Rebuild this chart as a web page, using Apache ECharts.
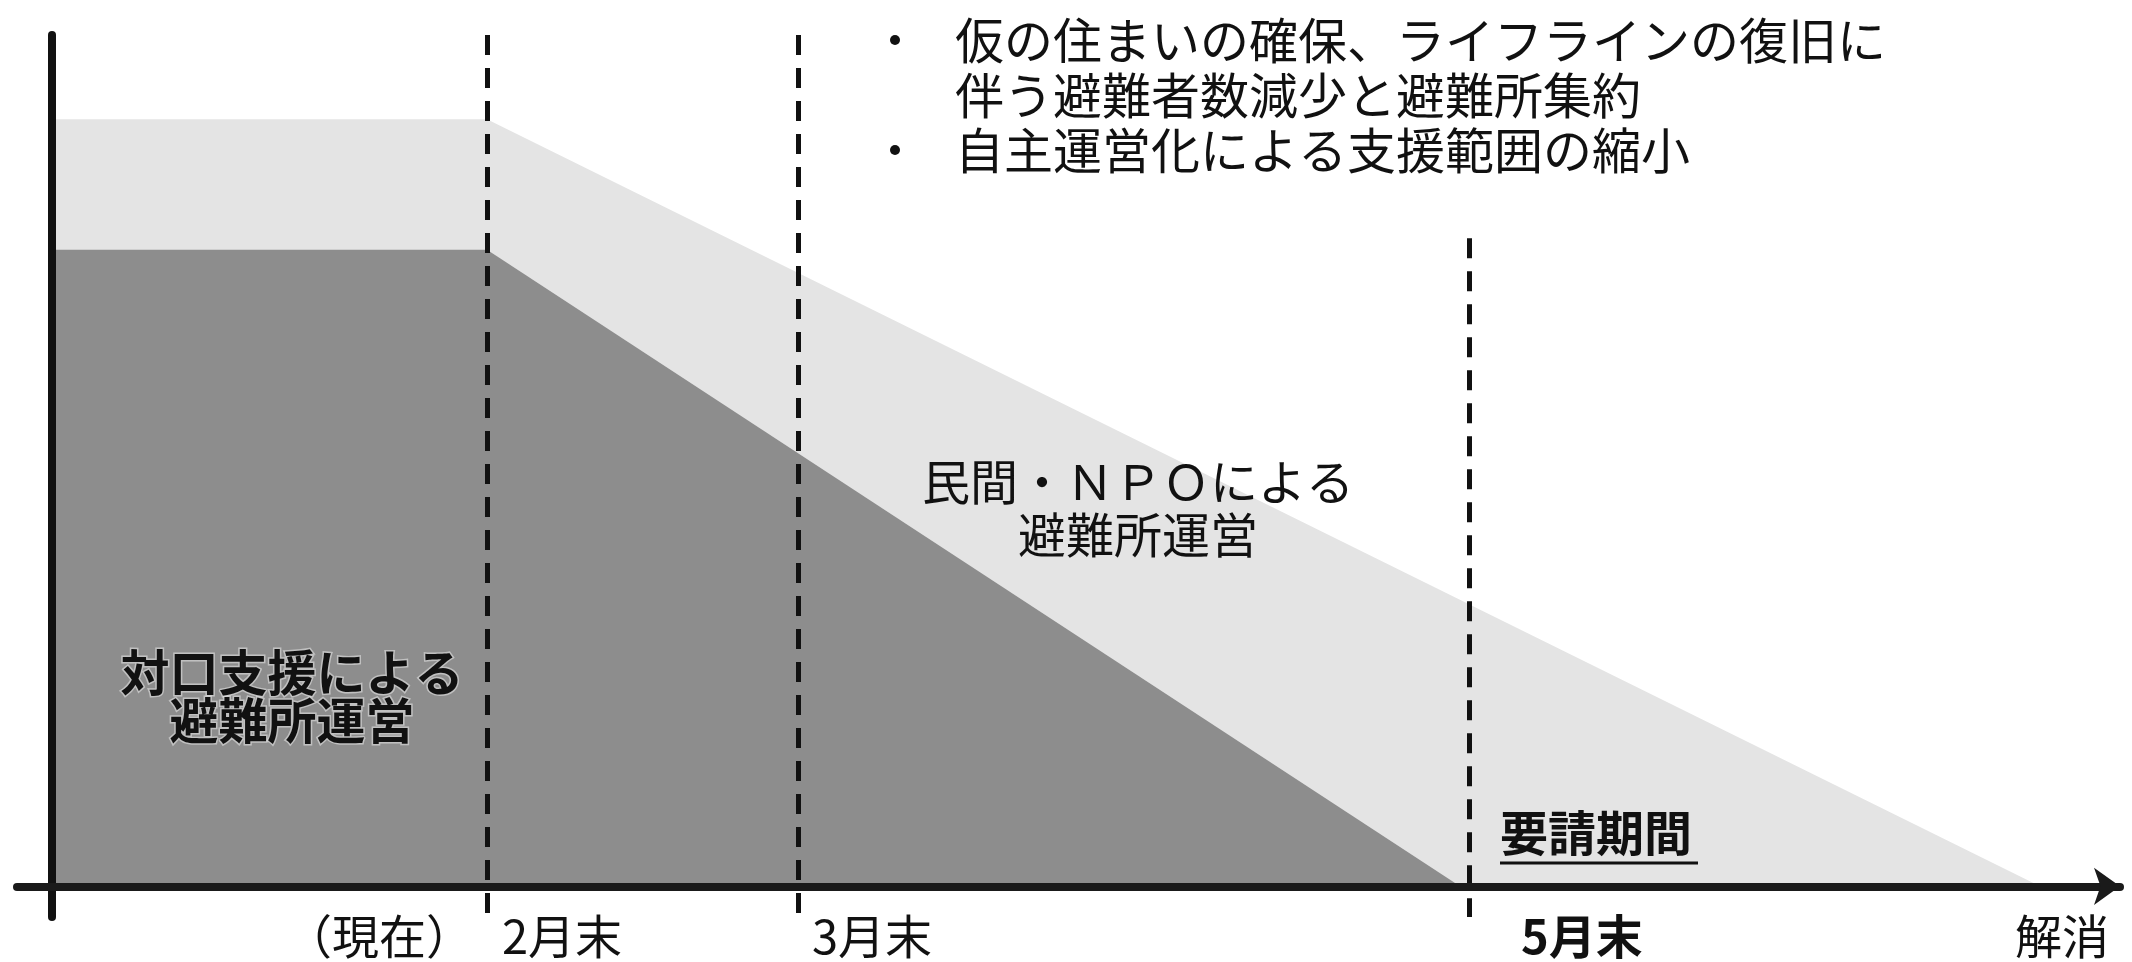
<!DOCTYPE html>
<html>
<head>
<meta charset="utf-8">
<script src="https://cdn.jsdelivr.net/npm/echarts@6/dist/echarts.min.js"></script>
<style>
html,body{margin:0;padding:0;background:#ffffff;}
#c{width:2132px;height:962px;}
</style>
</head>
<body>
<div id="c"></div>
<script>
// ---- data (x in arbitrary time units, y in arbitrary support-scale units) ----
const milestoneNames = ['2月末', '3月末', '5月末'];
const milestoneX = [43.5, 74.6, 141.7];
const milestoneTop = [111, 111, 84.5];
const milestoneBottom = [-4, -4, -4];
const counterpartSupport = [[0, 83], [43.5, 83], [140.8, 0]];      // 対口支援による避難所運営
const totalSupport = [[0, 100], [43.5, 100], [198.8, 0]];          // + 民間・NPOによる避難所運営
const tickLabels = ['（現在）', '2月末', '3月末', '5月末', '解消'];
const tickValues = [43.5, 43.5, 74.6, 141.7, 198.8];
const bulletLines = ['仮の住まいの確保、ライフラインの復旧に', '伴う避難者数減少と避難所集約', '自主運営化による支援範囲の縮小'];
const npoLabel = ['民間・ＮＰＯによる', '避難所運営'];
const counterpartLabel = ['対口支援による', '避難所運営'];
const periodLabel = '要請期間';

const FONT = "'Noto Sans CJK JP', 'Noto Sans', sans-serif";
const chart = echarts.init(document.getElementById('c'));

chart.setOption({
  animation: false,
  backgroundColor: '#ffffff',
  grid: { left: 17, right: 12, top: 35, bottom: 45, containLabel: false },
  xAxis: {
    type: 'value', min: -3.5, max: 206.8, z: 10,
    axisLine: { show: true, onZero: true, symbol: ['none', 'arrow'], symbolSize: [28, 26],
      lineStyle: { color: '#1a1a1a', width: 8 } },
    axisTick: { show: false }, axisLabel: { show: false }, splitLine: { show: false }
  },
  yAxis: {
    type: 'value', min: -4, max: 111, z: 10,
    axisLine: { show: true, onZero: true, lineStyle: { color: '#111', width: 8 } },
    axisTick: { show: false }, axisLabel: { show: false }, splitLine: { show: false }
  },
  series: [
    {
      name: '民間・ＮＰＯによる避難所運営', type: 'line', data: totalSupport,
      showSymbol: false, lineStyle: { width: 0 },
      areaStyle: { color: '#e4e4e4', opacity: 1 }, z: 2
    },
    {
      name: '対口支援による避難所運営', type: 'line', data: counterpartSupport,
      showSymbol: false, lineStyle: { width: 0 },
      areaStyle: { color: '#8d8d8d', opacity: 1 }, z: 3,
      markLine: {
        silent: true, symbol: ['none', 'none'], label: { show: false },
        lineStyle: { color: '#111', width: 5, type: [20, 13] },
        data: milestoneX.map((x, i) => [{ coord: [x, milestoneTop[i]] }, { coord: [x, milestoneBottom[i]] }])
      }
    }
  ]
});

const px = v => chart.convertToPixel({ xAxisIndex: 0 }, v);
const graphics = [];
const tickStyle = [
  { align: 'right', dx: -14, weight: 'normal' },
  { align: 'left', dx: 15, weight: 'normal' },
  { align: 'left', dx: 14, weight: 'normal' },
  { align: 'left', dx: 52, weight: 'bold' },
  { align: 'center', dx: 22, weight: 'normal' }
];
tickLabels.forEach((t, i) => {
  graphics.push({ type: 'text', x: px(tickValues[i]) + tickStyle[i].dx, y: 936, z: 20,
    style: { text: t, fontSize: 47, fontFamily: FONT, fontWeight: tickStyle[i].weight,
      fill: '#111', align: tickStyle[i].align, verticalAlign: 'middle' } });
});
// bullets
const bulletY = [40, 95, 150];
bulletLines.forEach((t, i) => {
  graphics.push({ type: 'text', x: 955, y: bulletY[i], z: 20,
    style: { text: t, fontSize: 49, fontFamily: FONT, fill: '#111', align: 'left', verticalAlign: 'middle' } });
});
[0, 2].forEach(i => {
  graphics.push({ type: 'circle', shape: { cx: 895, cy: bulletY[i], r: 5 }, style: { fill: '#111' }, z: 20 });
});
// NPO label
npoLabel.forEach((t, i) => {
  graphics.push({ type: 'text', x: 1138, y: [482, 535][i], z: 20,
    style: { text: t, fontSize: 48, fontFamily: FONT, fill: '#111', align: 'center', verticalAlign: 'middle' } });
});
// counterpart label
counterpartLabel.forEach((t, i) => {
  graphics.push({ type: 'text', x: 292, y: [672, 720][i], z: 20,
    style: { text: t, fontSize: 49, fontFamily: FONT, fontWeight: 'bold', fill: '#111',
      stroke: 'rgba(235,235,235,0.55)', lineWidth: 3, align: 'center', verticalAlign: 'middle' } });
});
// request period
graphics.push({ type: 'text', x: 1500, y: 833, z: 20,
  style: { text: periodLabel, fontSize: 48, fontFamily: FONT, fontWeight: 'bold', fill: '#111', align: 'left', verticalAlign: 'middle' } });
graphics.push({ type: 'line', shape: { x1: 1500, y1: 863, x2: 1698, y2: 863 }, style: { stroke: '#111', lineWidth: 3 }, z: 20 });

chart.setOption({ graphic: graphics });
</script>
</body>
</html>
